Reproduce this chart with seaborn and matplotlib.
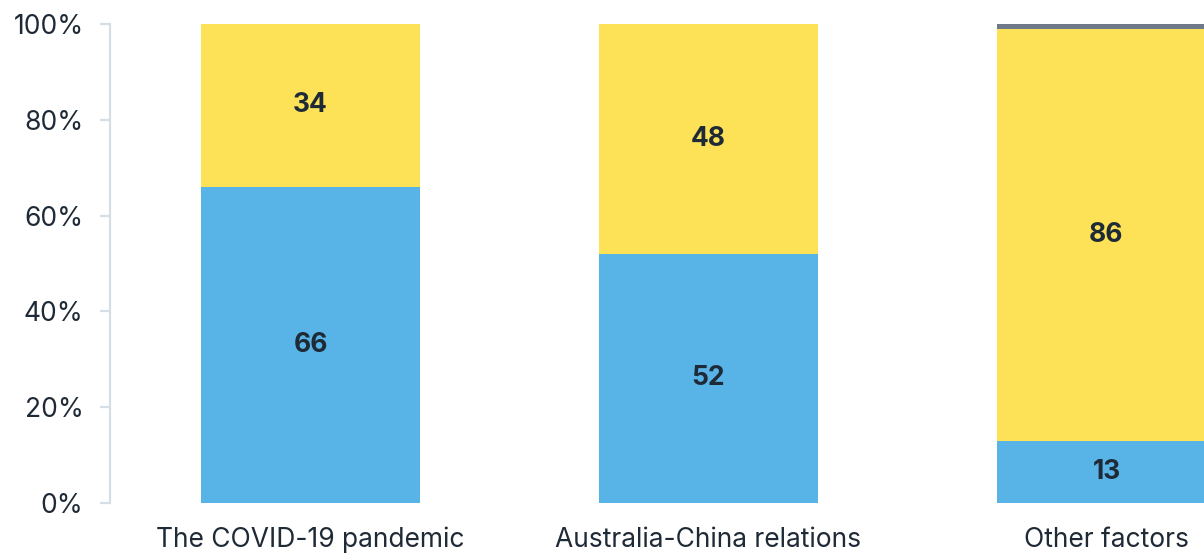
import matplotlib.pyplot as plt
import seaborn as sns
import pandas as pd

categories = ["The COVID-19 pandemic", "Australia-China relations", "Other factors"]
blue_vals = [66, 52, 13]
yellow_vals = [34, 48, 86]
grey_vals = [0, 0, 1]

blue = "#58b3e6"
yellow = "#fde156"
grey = "#6e7a8a"
text_col = "#1f2a37"

sns.set_theme(style="white")
plt.rcParams["font.family"] = ["Inter", "DejaVu Sans"]

df = pd.DataFrame({"cat": categories, "blue": blue_vals,
                   "yellow": yellow_vals, "grey": grey_vals})
df["b2"] = df["blue"] + df["yellow"]

fig = plt.figure(figsize=(12.04, 5.55), dpi=100)
ax = fig.add_axes([110 / 1204, 52 / 555, 1 - 110 / 1204, 479 / 555])

sns.barplot(data=df, x="cat", y="blue", color=blue, width=0.55,
            saturation=1, linewidth=0, ax=ax)
sns.barplot(data=df, x="cat", y="yellow", bottom=df["blue"], color=yellow,
            width=0.55, saturation=1, linewidth=0, ax=ax)
sns.barplot(data=df, x="cat", y="grey", bottom=df["b2"], color=grey,
            width=0.55, saturation=1, linewidth=0, ax=ax)

for i, row in df.iterrows():
    ax.text(i, row["blue"] / 2, f"{row['blue']}", ha="center", va="center",
            fontsize=19, fontweight="bold", color=text_col)
    ax.text(i, row["blue"] + row["yellow"] / 2, f"{row['yellow']}",
            ha="center", va="center", fontsize=19, fontweight="bold",
            color=text_col)

ax.set_xlim(-0.504, 2.245)
ax.set_ylim(0, 100)
ax.set_yticks([0, 20, 40, 60, 80, 100])
ax.set_yticklabels([f"{v}%" for v in [0, 20, 40, 60, 80, 100]])
ax.set_xlabel("")
ax.set_ylabel("")

for s in ["top", "right", "bottom"]:
    ax.spines[s].set_visible(False)
ax.spines["left"].set_color("#d5dde5")
ax.spines["left"].set_linewidth(1.6)
ax.tick_params(axis="y", length=7, width=1.6, color="#d5dde5", pad=12,
               labelsize=19, labelcolor=text_col, left=True)
ax.tick_params(axis="x", length=0, pad=17, labelsize=19, labelcolor=text_col)

plt.savefig("out.png", dpi=100)
